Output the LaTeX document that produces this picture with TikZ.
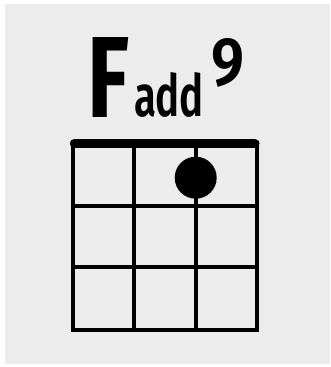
\documentclass[tikz,border=0pt]{standalone}
\usepackage{fontspec}
\usepackage{graphicx}
\setmainfont{Fira Sans}
\definecolor{bg}{HTML}{ECECEC}
\tikzset{
  fretline/.style={line width=4.2pt, line cap=rect},
  nutbar/.style={line width=9.5pt, line cap=round},
  glyph/.style={inner sep=0pt, outer sep=0pt, anchor=south west},
  fingerdot/.style={circle, fill=black, minimum size=42pt, inner sep=0pt}
}
\begin{document}
\begin{tikzpicture}[x=1pt,y=-1pt]
\useasboundingbox (0,0) rectangle (331,367);
\fill[white] (0,0) rectangle (331,367);
\fill[bg] (5,4) rectangle (330,364);
% title
\node[glyph] (F) at (87,117) {\resizebox{42pt}{80pt}{\bfseries F}};
\node[glyph] (add) at (134,117) {\resizebox{70pt}{44pt}{\fontspec{Fira Sans SemiBold}add}};
\node[glyph] (nine) at (211,87) {\resizebox{33pt}{47pt}{\fontspec{Fira Sans SemiBold}9}};
% grid
\foreach \x in {72.7,134.3,195.7,256.7} \draw[fretline] (\x,143) -- (\x,330);
\foreach \y in {205.7,267.3,330} \draw[fretline] (72.7,\y) -- (256.7,\y);
\coordinate (nutL) at (74.5,143.5);
\coordinate (nutR) at (254.8,143.5);
\draw[nutbar] (nutL) -- (nutR);
\node[fingerdot] (dot) at (195.7,177.7) {};
\end{tikzpicture}
\end{document}
